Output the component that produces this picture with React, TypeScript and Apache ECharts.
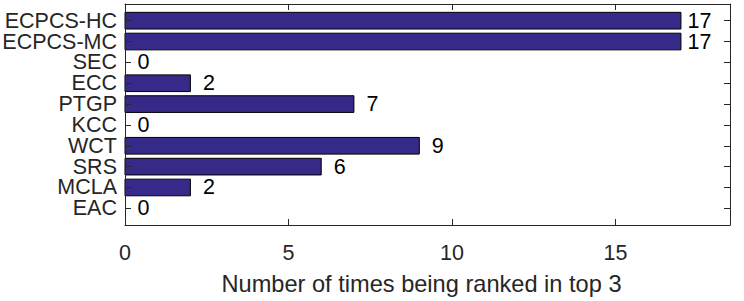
import React, { useEffect, useRef } from "react";
import * as echarts from "echarts";

const categories = ["ECPCS-HC", "ECPCS-MC", "SEC", "ECC", "PTGP", "KCC", "WCT", "SRS", "MCLA", "EAC"];
const values = [17, 17, 0, 2, 7, 0, 9, 6, 2, 0];
const xTicks = [0, 5, 10, 15];
const xTitle = "Number of times being ranked in top 3";

const FONT = "'Liberation Sans', Arial, Helvetica, sans-serif";
const TXT = "#262626";
const BAR = "#352A87";
const FS = 21.5;
const FS_TITLE = 23.6;

export default function App() {
  const ref = useRef<HTMLDivElement>(null);
  useEffect(() => {
    if (!ref.current) return;
    const chart = echarts.init(ref.current, undefined, { renderer: "svg" });
    const yPos = categories.map((_, i) => i + 1);
    const data = values.map((v, i) => [v, i + 1, categories[i]]);
    const axisCommon = {
      axisLine: { show: true, onZero: false, lineStyle: { color: TXT, width: 1 } },
      axisTick: { show: true, inside: true, length: 6, lineStyle: { color: TXT, width: 1 } },
      splitLine: { show: false },
      z: 5,
    };
    chart.setOption({
      animation: false,
      textStyle: { fontFamily: FONT },
      grid: { left: 125, top: 4, right: 14, bottom: 73, containLabel: false },
      xAxis: [
        {
          type: "value",
          min: 0,
          max: 18.5,
          position: "bottom",
          ...axisCommon,
          axisTick: { ...axisCommon.axisTick, customValues: xTicks },
          axisLabel: { customValues: xTicks, color: TXT, fontSize: FS, fontFamily: FONT, margin: 17 },
          name: xTitle,
          nameLocation: "middle",
          nameGap: 47,
          nameTextStyle: { color: TXT, fontSize: FS_TITLE, fontFamily: FONT, padding: [0, 12, 0, 0] },
        },
        {
          type: "value",
          min: 0,
          max: 18.5,
          position: "top",
          ...axisCommon,
          axisTick: { ...axisCommon.axisTick, customValues: xTicks },
          axisLabel: { show: false },
        },
      ],
      yAxis: [
        {
          type: "value",
          min: 0.2,
          max: 10.8,
          inverse: true,
          position: "left",
          ...axisCommon,
          axisTick: { ...axisCommon.axisTick, customValues: yPos },
          axisLabel: { show: false },
        },
        {
          type: "value",
          min: 0.2,
          max: 10.8,
          inverse: true,
          position: "right",
          ...axisCommon,
          axisTick: { ...axisCommon.axisTick, customValues: yPos },
          axisLabel: { show: false },
        },
      ],
      series: [
        {
          type: "custom",
          xAxisIndex: 0,
          yAxisIndex: 0,
          z: 2,
          clip: false,
          data,
          renderItem: (params: any, api: any) => {
            const v = api.value(0);
            const y = api.value(1);
            const name = categories[params.dataIndex];
            const a = api.coord([0, y - 0.4]);
            const b = api.coord([v, y + 0.4]);
            const c = api.coord([v, y]);
            const z0 = api.coord([0, y]);
            const children: any[] = [];
            if (v > 0) {
              children.push({
                type: "rect",
                shape: {
                  x: a[0],
                  y: Math.min(a[1], b[1]),
                  width: b[0] - a[0],
                  height: Math.abs(b[1] - a[1]),
                },
                style: { fill: BAR, stroke: "#000", lineWidth: 1 },
              });
            }
            children.push({
              type: "text",
              x: c[0] + 18.5,
              y: c[1],
              style: {
                text: String(v),
                fill: "#000",
                font: `${FS}px ${FONT}`,
                lineHeight: 20,
                align: "center",
                verticalAlign: "middle",
              },
            });
            children.push({
              type: "text",
              x: z0[0] - 8,
              y: z0[1],
              style: {
                text: name,
                fill: TXT,
                font: `${FS}px ${FONT}`,
                lineHeight: 20,
                align: "right",
                verticalAlign: "middle",
              },
            });
            return { type: "group", children };
          },
        },
      ],
    });
    return () => chart.dispose();
  }, []);
  return (
    <div
      ref={ref}
      style={{ position: "absolute", left: 0, top: 0, width: 744, height: 301, background: "#fff" }}
    />
  );
}
